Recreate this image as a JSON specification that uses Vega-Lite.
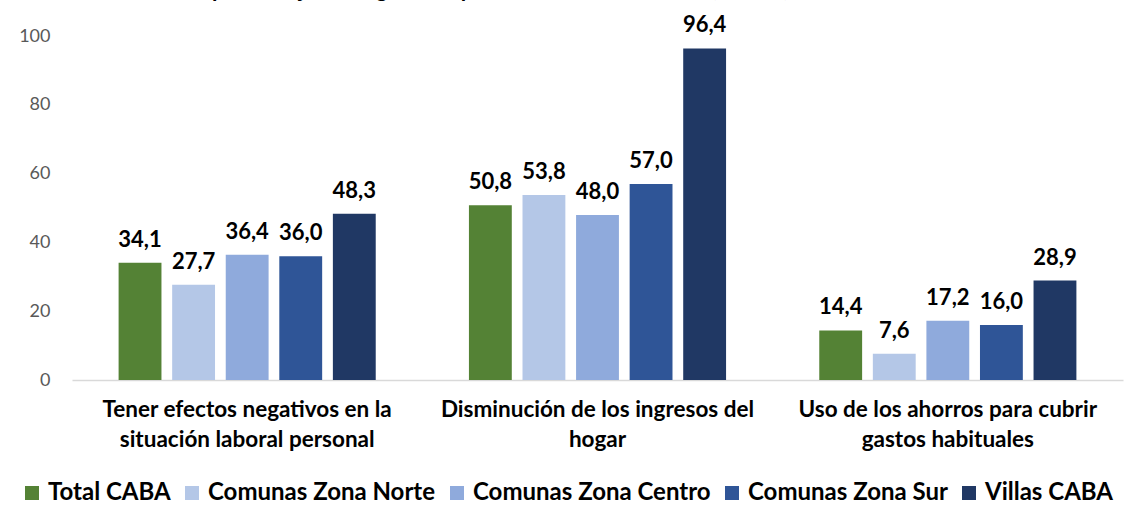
{
  "$schema": "https://vega.github.io/schema/vega-lite/v6.json",
  "width": 1051,
  "height": 344,
  "autosize": {"type": "none"},
  "padding": {"left": 72, "top": 36, "right": 8, "bottom": 132},
  "background": "white",
  "config": {
    "view": {"stroke": null},
    "locale": {"number": {"decimal": ",", "thousands": ".", "grouping": [3], "currency": ["$", ""]}},
    "font": "Lato"
  },
  "title": {
    "text": "al escenario COVID-19. En porcentaje de hogares. Espacios socio-residenciales, CABA, 2020 - 2021",
    "anchor": "start",
    "frame": "bounds",
    "fontSize": 22,
    "fontWeight": "bold",
    "color": "#000000",
    "font": "Lato",
    "offset": 12,
    "dx": -72
  },
  "data": {
    "values": [
      {"cat": "Tener efectos negativos en la situación laboral personal", "serie": "Total CABA", "v": 34.1},
      {"cat": "Tener efectos negativos en la situación laboral personal", "serie": "Comunas Zona Norte", "v": 27.7},
      {"cat": "Tener efectos negativos en la situación laboral personal", "serie": "Comunas Zona Centro", "v": 36.4},
      {"cat": "Tener efectos negativos en la situación laboral personal", "serie": "Comunas Zona Sur", "v": 36.0},
      {"cat": "Tener efectos negativos en la situación laboral personal", "serie": "Villas CABA", "v": 48.3},
      {"cat": "Disminución de los ingresos del hogar", "serie": "Total CABA", "v": 50.8},
      {"cat": "Disminución de los ingresos del hogar", "serie": "Comunas Zona Norte", "v": 53.8},
      {"cat": "Disminución de los ingresos del hogar", "serie": "Comunas Zona Centro", "v": 48.0},
      {"cat": "Disminución de los ingresos del hogar", "serie": "Comunas Zona Sur", "v": 57.0},
      {"cat": "Disminución de los ingresos del hogar", "serie": "Villas CABA", "v": 96.4},
      {"cat": "Uso de los ahorros para cubrir gastos habituales", "serie": "Total CABA", "v": 14.4},
      {"cat": "Uso de los ahorros para cubrir gastos habituales", "serie": "Comunas Zona Norte", "v": 7.6},
      {"cat": "Uso de los ahorros para cubrir gastos habituales", "serie": "Comunas Zona Centro", "v": 17.2},
      {"cat": "Uso de los ahorros para cubrir gastos habituales", "serie": "Comunas Zona Sur", "v": 16.0},
      {"cat": "Uso de los ahorros para cubrir gastos habituales", "serie": "Villas CABA", "v": 28.9}
    ]
  },
  "encoding": {
    "x": {
      "field": "cat",
      "type": "nominal",
      "sort": null,
      "scale": {"paddingInner": 0, "paddingOuter": 0},
      "axis": {
        "title": null,
        "labelAngle": 0,
        "ticks": false,
        "domainColor": "#d9d9d9",
        "domainWidth": 1.5,
        "labelFontSize": 22.5,
        "labelFontWeight": "bold",
        "labelColor": "#000000",
        "labelPadding": 18,
        "labelLineHeight": 30,
        "labelLimit": 0,
        "labelExpr": "datum.value == 'Tener efectos negativos en la situación laboral personal' ? ['Tener efectos negativos en la', 'situación laboral personal'] : datum.value == 'Disminución de los ingresos del hogar' ? ['Disminución de los ingresos del', 'hogar'] : ['Uso de los ahorros para cubrir', 'gastos habituales']"
      }
    },
    "xOffset": {
      "field": "serie",
      "type": "nominal",
      "sort": ["Total CABA", "Comunas Zona Norte", "Comunas Zona Centro", "Comunas Zona Sur", "Villas CABA"],
      "scale": {"paddingInner": 0.2, "paddingOuter": 0.87}
    },
    "y": {
      "field": "v",
      "type": "quantitative",
      "scale": {"domain": [0, 100]},
      "axis": {
        "title": null,
        "values": [0, 20, 40, 60, 80, 100],
        "grid": false,
        "domain": false,
        "ticks": false,
        "labelFontSize": 18,
        "labelColor": "#595959",
        "labelPadding": 22,
        "labelFont": "Lato"
      }
    }
  },
  "layer": [
    {
      "mark": {"type": "bar"},
      "encoding": {
        "color": {
          "field": "serie",
          "type": "nominal",
          "sort": ["Total CABA", "Comunas Zona Norte", "Comunas Zona Centro", "Comunas Zona Sur", "Villas CABA"],
          "scale": {
            "domain": ["Total CABA", "Comunas Zona Norte", "Comunas Zona Centro", "Comunas Zona Sur", "Villas CABA"],
            "range": ["#548235", "#B4C7E7", "#8FAADC", "#2F5597", "#203864"]
          },
          "legend": {
            "title": null,
            "orient": "none",
            "legendX": -52,
            "legendY": 445,
            "direction": "horizontal",
            "columns": 5,
            "symbolType": "square",
            "symbolSize": 196,
            "symbolStrokeWidth": 0,
            "labelFontSize": 24,
            "labelFontWeight": "bold",
            "labelColor": "#000000",
            "labelLimit": 0,
            "columnPadding": 9,
            "labelOffset": 4
          }
        }
      }
    },
    {
      "mark": {"type": "text", "baseline": "bottom", "dy": -11, "fontSize": 22, "fontWeight": "bold", "color": "#000000"},
      "encoding": {
        "text": {"field": "v", "type": "quantitative", "format": ".1f"}
      }
    }
  ]
}
